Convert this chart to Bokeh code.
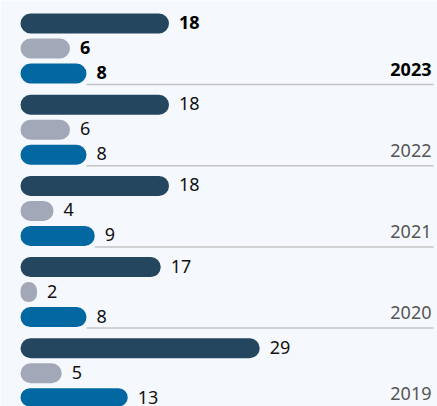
from bokeh.plotting import figure
from bokeh.models import ColumnDataSource, Range1d
from bokeh.embed import file_html
from bokeh.resources import INLINE
from bokeh.core.properties import value

years = ["2023", "2022", "2021", "2020", "2019"]
series_a = [18, 18, 18, 17, 29]   # dark navy
series_b = [6, 6, 4, 2, 5]        # grey
series_c = [8, 8, 9, 8, 13]       # blue
colors = ["#24475f", "#a3a8b8", "#0367a2"]

W, H = 437, 406
PX_PER_UNIT = 8.25
X0_PX = 20
GROUP_PITCH = 81.2
SLOT = 25
TOP = 23

p = figure(width=W, height=H, output_backend="svg", toolbar_location=None,
           x_range=Range1d(-X0_PX / PX_PER_UNIT, (W - X0_PX) / PX_PER_UNIT),
           y_range=Range1d(H, 0), min_border=0)
p.axis.visible = False
p.grid.visible = False
p.outline_line_color = None
p.background_fill_color = "#f5f9fd"
p.border_fill_color = "#f5f9fd"

right_val = (433 - X0_PX) / PX_PER_UNIT

# baselines, starting at the end of the last bar of each group
line_y = [TOP + 61 + GROUP_PITCH * i for i in range(len(years))]
p.segment(x0=series_c, x1=[right_val] * len(years), y0=line_y, y1=line_y,
          line_color="#c3c3c3", line_width=1.5)

vals = []
ys = []
cols = []
bold = []
for i, yr in enumerate(years):
    for j, s in enumerate([series_a, series_b, series_c]):
        vals.append(s[i])
        ys.append(TOP + GROUP_PITCH * i + SLOT * j)
        cols.append(colors[j])
        bold.append("bold" if i == 0 else "normal")

src = ColumnDataSource(dict(v=vals, y=ys, c=cols, t=[str(v) for v in vals], fs=bold,
                            tc=["#000000" if b == "bold" else "#111111" for b in bold]))
p.hbar(y="y", left=0, right="v", height=20, fill_color="c", line_color=None,
       border_radius=10, source=src)
p.text(x="v", y="y", text="t", x_offset=10, y_offset=-1, text_baseline="middle",
       text_align="left", text_font=value("Noto Sans"), text_font_size="18px",
       text_font_style="fs", text_color="tc", source=src)

ysrc = ColumnDataSource(dict(
    x=[(431 - X0_PX) / PX_PER_UNIT] * len(years),
    y=[ly - 9 for ly in line_y],
    t=years,
    fs=["bold"] + ["normal"] * (len(years) - 1),
    tc=["#000000"] + ["#555555"] * (len(years) - 1)))
p.text(x="x", y="y", text="t", text_align="right", text_baseline="bottom",
       text_font=value("Noto Sans"), text_font_size="18px", text_font_style="fs",
       text_color="tc", source=ysrc)

open("out.html", "w").write(file_html(p, INLINE))
